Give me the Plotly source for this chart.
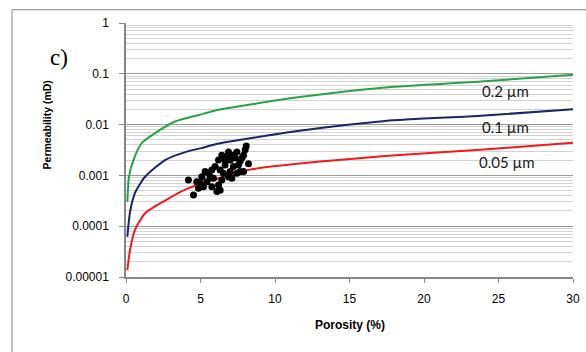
import math
import plotly.graph_objects as go

# ---- data ----
green_phi = [0.09, 0.2, 0.5, 1.05, 1.95, 3.3, 4.9, 6.0, 11.4, 17.4, 23.8, 30]
green_k = [0.0003, 0.00094, 0.002, 0.0043, 0.0068, 0.0115, 0.0155, 0.019, 0.034, 0.054, 0.0705, 0.0955]

blue_phi = [0.09, 0.27, 0.6, 1.28, 2.62, 4.19, 5.0, 6.0, 11.4, 17.4, 23.8, 30]
blue_k = [6.2e-5, 0.00019, 0.00045, 0.00094, 0.002, 0.003, 0.0034, 0.0041, 0.0074, 0.0118, 0.0149, 0.02]

red_phi = [0.09, 0.27, 0.6, 1.28, 2.62, 4.19, 8.34, 13.05, 17.4, 23.8, 30]
red_k = [1.36e-5, 3.4e-5, 8.4e-5, 0.00018, 0.00032, 0.00056, 0.0013, 0.00187, 0.0024, 0.0032, 0.0044]

sample_phi = [4.19, 4.53, 4.75, 4.86, 5.09, 5.31, 5.43, 5.65, 5.76, 5.87, 5.98, 6.1, 6.32, 6.21,
              6.43, 6.54, 6.43, 6.65, 6.88, 6.99, 6.99, 7.1, 7.21, 7.33, 7.44, 7.55, 7.66, 7.78,
              8.0, 8.07, 8.22, 7.89, 6.88, 6.21, 5.2, 5.76, 6.76, 7.21, 6.65, 4.98, 5.54, 6.32,
              7.44, 7.66, 7.89]
sample_k = [0.00081, 0.00041, 0.00075, 0.00056, 0.00094, 0.0012, 0.00075, 0.00094, 0.00128, 0.00088,
            0.00149, 0.00048, 0.00051, 0.0020, 0.0025, 0.0011, 0.00081, 0.0016, 0.0029, 0.0020,
            0.0012, 0.00088, 0.0015, 0.0022, 0.0029, 0.0016, 0.0012, 0.0022, 0.0032, 0.0038,
            0.0017, 0.0012, 0.00094, 0.00065, 0.0006, 0.0006, 0.0023, 0.0025, 0.0020, 0.00071,
            0.0011, 0.00128, 0.0011, 0.0019, 0.0025]

y_tickvals = [1e-5, 1e-4, 1e-3, 1e-2, 1e-1, 1]
y_ticktext = ["0.00001", "0.0001", "0.001", "0.01", "0.1", "1"]
x_tickvals = [0, 5, 10, 15, 20, 25, 30]

curve_labels = ["0.2 µm", "0.1 µm", "0.05 µm"]
label_x = [25.5, 25.5, 25.6]
label_y = [0.045, 0.0091, 0.00187]

# ---- figure ----
fig = go.Figure()
fig.add_trace(go.Scatter(x=green_phi, y=green_k, mode="lines",
                         line=dict(color="#25a34a", width=2, shape="spline", smoothing=0.6)))
fig.add_trace(go.Scatter(x=blue_phi, y=blue_k, mode="lines",
                         line=dict(color="#1b2466", width=2, shape="spline", smoothing=0.6)))
fig.add_trace(go.Scatter(x=red_phi, y=red_k, mode="lines",
                         line=dict(color="#f0191c", width=2, shape="spline", smoothing=0.6)))
fig.add_trace(go.Scatter(x=sample_phi, y=sample_k, mode="markers",
                         marker=dict(color="black", size=7, line=dict(width=0))))

for t, lx, ly in zip(curve_labels, label_x, label_y):
    fig.add_annotation(x=lx, y=math.log10(ly), xref="x", yref="y", text=t, showarrow=False,
                       font=dict(family="Lato, Open Sans, sans-serif", size=15, color="#1a1a1a"))

fig.add_annotation(x=-0.175, y=0.921, xref="paper", yref="paper", text="c)", showarrow=False,
                   font=dict(family="Liberation Serif", size=23, color="black"))
fig.add_annotation(x=-0.195, y=0.60, xref="paper", yref="paper", text="<b>Permeability (mD)</b>",
                   textangle=-90, showarrow=False,
                   font=dict(family="Liberation Sans", size=10.5, color="black"))
fig.add_annotation(x=0.5, y=-0.19, xref="paper", yref="paper", text="<b>Porosity (%)</b>",
                   showarrow=False, yanchor="middle",
                   font=dict(family="Liberation Sans", size=12, color="black"))

# chart-area frame (left and top edges are the ones inside the picture)
fig.add_shape(type="line", xref="paper", yref="paper", x0=-0.255, x1=-0.255, y0=-0.4, y1=1.053,
              line=dict(color="#9a9a9a", width=1.2))
fig.add_shape(type="line", xref="paper", yref="paper", x0=-0.255, x1=1.2, y0=1.053, y1=1.053,
              line=dict(color="#9a9a9a", width=1.2))

fig.update_layout(
    width=586, height=352,
    margin=dict(l=126, r=13, t=23, b=75, autoexpand=False),
    paper_bgcolor="white", plot_bgcolor="white",
    showlegend=False,
    font=dict(family="Liberation Sans", size=12, color="black"),
    xaxis=dict(range=[0, 30], tickvals=x_tickvals, showgrid=False, zeroline=False,
               showline=True, linecolor="#868686", linewidth=1.5, automargin=False,
               ticks="outside", ticklen=4, tickcolor="#868686", tickwidth=1,
               ticklabelstandoff=6, tickfont=dict(size=12)),
    yaxis=dict(type="log", range=[-5, 0], tickvals=y_tickvals, ticktext=y_ticktext,
               showgrid=True, gridcolor="#9a9a9a", gridwidth=1, zeroline=False,
               showline=True, linecolor="#868686", linewidth=1.5, automargin=False,
               ticks="outside", ticklen=5, tickcolor="#868686", tickwidth=1,
               ticklabelstandoff=8, tickfont=dict(size=12),
               minor=dict(dtick="D1", showgrid=True, gridcolor="#d2d2d2", gridwidth=1, ticks="")),
)

fig.write_html("out.html")
